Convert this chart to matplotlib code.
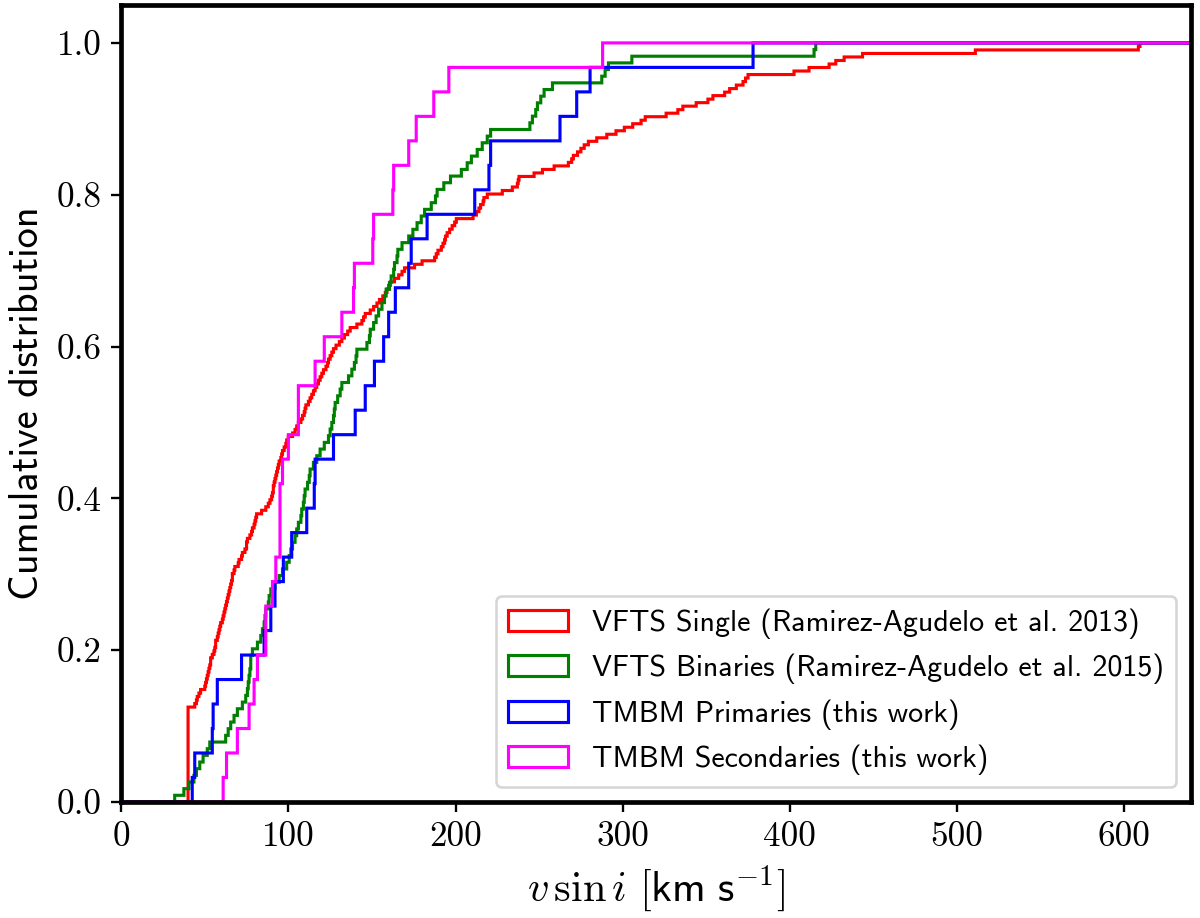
import numpy as np
import matplotlib
matplotlib.use("Agg")
import matplotlib.pyplot as plt

# vsini values (km/s)
vfts_single = [40] * 27 + [
    44, 45, 45.5, 46.5, 47.5, 50, 50.5, 51, 51.8, 52.2, 52.5, 53, 53.5, 53.9, 54.9,
    55.5, 56, 56.5, 56.9, 57.5, 58, 58.9, 59.2, 59.9, 60.5, 61, 61.5, 62, 62.8, 63.2,
    63.8, 64.4, 64.8, 65, 65.5, 66, 66.5, 66.8, 67.5, 68, 70, 70.7, 72, 72.7, 74,
    75, 75.3, 75.7, 77, 78, 78.7, 79.5, 80, 80.7, 81, 84, 86.6, 88, 89, 90,
    90.5, 91, 91.3, 91.6, 92, 92.5, 93, 93.5, 94, 94.8, 95.5, 96, 96.8, 97.5, 98.5,
    99.3, 100.1, 102.5, 104, 105, 106.4, 107.5, 108.5, 109.5, 110, 110.8, 112, 113.2, 114.2, 115.3,
    116.3, 117.3, 118.3, 119.3, 120.3, 121, 122.5, 123.5, 124.3, 125.3, 126.2, 127.3, 128.5, 130.5, 132,
    133.5, 135.5, 137.2, 141, 144.1, 145, 146, 149, 151, 153, 154.5, 156.5, 158, 159, 160,
    161, 163.5, 166, 168, 169.8, 175.8, 180, 187.7, 188.5, 189.7, 191.5, 192.6, 193.5, 194, 195.2,
    196.5, 198, 199.5, 200.5, 210.5, 212.5, 214, 215.4, 216.5, 217.4, 219.4, 228.3, 234.2, 237.2, 237.6,
    238, 247.1, 252, 259, 267.9, 269.5, 270.9, 273, 275, 277, 279.8, 284.8, 290.7, 296, 301,
    306, 311, 313.5, 326, 333, 336.3, 344.2, 351.2, 354.2, 361.1, 364, 368, 372, 373.5, 375,
    402.7, 411.5, 423.7, 427.7, 432.7, 443.7, 511.2, 608.8, 609.5,
]

vfts_binaries = [
    32, 37.5, 40.6, 43.5, 45, 47, 49, 51.9, 53, 62.8, 64.4, 65.8, 67.8, 69.8, 72.7,
    74.7, 75.7, 76, 76.5, 77, 77.5, 77.7, 78.5, 81.6, 83.6, 84.6, 85.5, 86, 86.6, 88,
    88.6, 89.6, 92, 94.5, 96.5, 99, 100.5, 101.5, 102.5, 104, 105, 106.4, 107.5, 108.4, 109,
    109.5, 110.4, 111.5, 112.5, 113.4, 115, 117.3, 119.3, 121.5, 124, 125, 126.2, 127, 127.6, 128.2,
    129.8, 131, 132.2, 136, 138, 139.5, 140.5, 141.1, 147, 148.5, 149, 151, 152.5, 154, 156,
    157.5, 158.9, 160.5, 161.9, 163, 163.9, 165, 165.9, 168, 172.2, 174.8, 177, 179.5, 181.7, 185.7,
    188, 189.3, 193.2, 197.2, 203.5, 207, 209.5, 213, 216.4, 219, 221.4, 244.8, 246, 248, 249.1,
    251, 253.1, 258, 287.7, 289.7, 291.7, 305.6, 414.6, 415.6,
]

tmbm_primaries = [
    42.6, 44.0, 54.5, 55.2, 57.5, 72.3, 85.6, 89.6, 92.2, 97.0, 102.1, 111.4, 115.5, 116.2, 127.2,
    140.1, 146.1, 151.5, 157.0, 160.3, 164.3, 172.2, 173.5, 183.3, 211.8, 220.0, 221.4, 262.6, 272.9, 280.8,
    378.3,
]

tmbm_secondaries = [
    61.4, 63.2, 69.8, 76.5, 79.7, 81.6, 86.6, 86.8, 90.6, 92.8, 95.1, 95.2, 95.3, 96.9, 100.1,
    106.0, 106.3, 116.3, 121.6, 132.2, 139.2, 139.7, 150.8, 151.2, 162.8, 163.1, 172.2, 176.8, 187.1, 196.0,
    288.3,
]

samples = [vfts_single, vfts_binaries, tmbm_primaries, tmbm_secondaries]
labels = [
    "VFTS Single (Ramirez-Agudelo et al. 2013)",
    "VFTS Binaries (Ramirez-Agudelo et al. 2015)",
    "TMBM Primaries (this work)",
    "TMBM Secondaries (this work)",
]
colors = ["red", "green", "blue", "magenta"]

plt.rcParams["font.family"] = "cmss10"
plt.rcParams["mathtext.fontset"] = "cm"
plt.rcParams["axes.unicode_minus"] = False

fig = plt.figure(figsize=(6.4, 4.896), dpi=187.5)
ax = fig.add_axes([0.101, 0.1264, 0.8915, 0.8682])

bins = np.arange(0, 700.5, 0.5)
for data, lab, col in zip(samples, labels, colors):
    ax.hist(data, bins=bins, cumulative=True, density=True, histtype="step",
            color=col, lw=1.2, label=lab)

ax.set_xlim(0, 640)
ax.set_ylim(0, 1.05)
ax.set_xticks(np.arange(0, 700, 100))
ax.set_yticks(np.arange(0, 1.01, 0.2))
ax.set_xticklabels([f"{v:d}" for v in range(0, 700, 100)])
ax.set_yticklabels([f"{v:.1f}" for v in np.arange(0, 1.01, 0.2)])
plt.setp(ax.get_xticklabels() + ax.get_yticklabels(), fontfamily="cmr10", fontsize=13.5)

for s in ax.spines.values():
    s.set_linewidth(1.8)
ax.tick_params(length=4.0, width=0.9)

ax.set_xlabel(r"$v\,\sin i\ [\mathsf{km\ s}^{-1}]$", fontsize=16.3)
ax.set_ylabel("Cumulative distribution", fontsize=15.5)

ax.legend(loc="lower right", fontsize=11.5, handlelength=2.0)

fig.savefig("out.png", dpi=187.5)
